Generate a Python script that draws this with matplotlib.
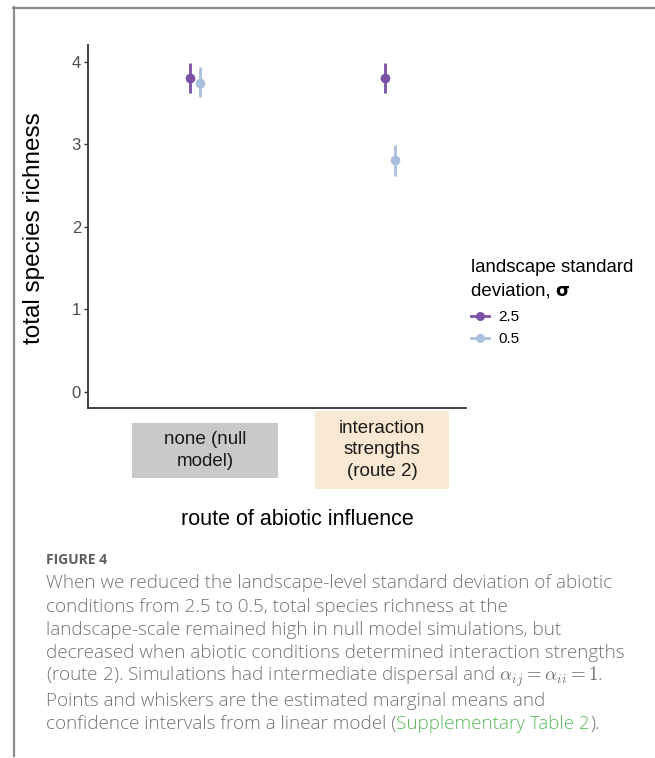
import numpy as np
import matplotlib
matplotlib.use("Agg")
import matplotlib.pyplot as plt
from matplotlib.lines import Line2D
from matplotlib.patches import Rectangle

# data
routes = ["none (null\nmodel)", "interaction\nstrengths\n(route 2)"]
sigma_labels = ["2.5", "0.5"]
sigma_colors = ["#7b52a6", "#a9c0de"]
# rows = sigma (2.5, 0.5), cols = route (null, route 2)
means = [[3.80, 3.80], [3.75, 2.81]]
ci_low = [[3.62, 3.63], [3.57, 2.62]]
ci_high = [[3.99, 3.99], [3.94, 2.99]]
yticks = [0, 1, 2, 3, 4]

caption_lines = [
    "When we reduced the landscape-level standard deviation of abiotic",
    "conditions from 2.5 to 0.5, total species richness at the",
    "landscape-scale remained high in null model simulations, but",
    "decreased when abiotic conditions determined interaction strengths",
    r"(route 2). Simulations had intermediate dispersal and $\alpha_{ij} = \alpha_{ii} = 1$.",
    "Points and whiskers are the estimated marginal means and",
]
caption_last = ["confidence intervals from a linear model (", "Supplementary Table 2", ")."]

W, H = 655, 758


def fx(x):
    return x / W


def fy(y):
    return 1 - y / H


plt.rcParams['font.family'] = ['Liberation Sans', 'DejaVu Sans']
plt.rcParams['mathtext.fontset'] = 'cm'

fig = plt.figure(figsize=(W / 100, H / 100), dpi=100)
ax = fig.add_axes([fx(88), fy(408), (466 - 88) / W, (408 - 45) / H])

xpos = np.arange(len(routes)) + 1
dodge = [-0.026, 0.026]
for i in range(len(sigma_labels)):
    m = np.array(means[i])
    lo = np.array(ci_low[i])
    hi = np.array(ci_high[i])
    ax.errorbar(xpos + dodge[i], m, yerr=[m - lo, hi - m], fmt='o',
                color=sigma_colors[i], ms=6, elinewidth=2, capsize=0)

ax.set_xlim(0.451, 2.39)
ax.set_ylim(-0.194, 4.206)
ax.set_yticks(yticks)
ax.set_yticklabels([str(t) for t in yticks])
ax.set_xticks([])
for s in ["top", "right"]:
    ax.spines[s].set_visible(False)
for s in ["left", "bottom"]:
    ax.spines[s].set_color("#333333")
    ax.spines[s].set_linewidth(1.3)
ax.tick_params(axis='y', length=3, width=1, color="#333333",
               labelcolor="#4d4d4d", labelsize=12, pad=2)

ax.set_ylabel("total species richness", fontsize=17.5, color="black")
ax.yaxis.set_label_coords(-0.114, 0.496)

# category labels in coloured boxes
box_specs = [((0.116, -0.193), 0.387, 0.152, "#c9c9c9"),
             ((0.601, -0.223), 0.354, 0.215, "#fae9d2")]
for (xy, w, h, col), lab in zip(box_specs, routes):
    ax.add_patch(Rectangle(xy, w, h, transform=ax.transAxes, facecolor=col,
                           edgecolor="none", clip_on=False))
    ax.text(xy[0] + w / 2, xy[1] + h / 2, lab, transform=ax.transAxes,
            ha='center', va='center', fontsize=13.5, linespacing=1.35,
            color="#1a1a1a")

ax.text(0.553, -0.306, "route of abiotic influence", transform=ax.transAxes,
        ha='center', va='center', fontsize=15.5, color="black")

# legend
fig.text(fx(471), fy(268), "landscape standard", fontsize=13.4, va='center')
t = fig.text(fx(471), fy(291), "deviation, ", fontsize=13.4, va='center')
ax.annotate("σ", xy=(1, 0.5), xycoords=t, va='center', ha='left',
            fontsize=13, fontweight='bold', family=['DejaVu Sans'])
handles = [Line2D([], [], color=c, marker='o', ms=5.5, lw=2) for c in sigma_colors]
ax.legend(handles, sigma_labels, loc='upper left',
          bbox_to_anchor=(fx(471), fy(310)), bbox_transform=fig.transFigure,
          frameon=False, handlelength=1.2, handletextpad=0.6,
          labelspacing=0.55, fontsize=11, borderaxespad=0, borderpad=0)

# page frame
fig.add_artist(Line2D([fx(13), fx(655)], [fy(7.5), fy(7.5)], color="#8c8c8c",
                      lw=1.6, transform=fig.transFigure))
fig.add_artist(Line2D([fx(13.5), fx(13.5)], [fy(7), fy(756)], color="#8c8c8c",
                      lw=1.6, transform=fig.transFigure))

# caption
cap_font = ['Open Sans', 'DejaVu Sans']
cap_col = "#737373"
cap_size = 13.6
fig.text(fx(46), fy(560), "FIGURE 4", fontsize=10, fontweight='bold',
         color="#5e5e5e", va='center', family=cap_font)
y0 = 583
for k, line in enumerate(caption_lines):
    fig.text(fx(46), fy(y0 + k * 23.5), line, fontsize=cap_size, color=cap_col,
             va='center', family=cap_font, fontweight='light')
ylast = y0 + len(caption_lines) * 23.5
prev = fig.text(fx(46), fy(ylast), caption_last[0], fontsize=cap_size,
                color=cap_col, va='center', family=cap_font, fontweight='light')
for piece, col in zip(caption_last[1:], ["#5cb85c", cap_col]):
    prev = ax.annotate(piece, xy=(1, 0.5), xycoords=prev, va='center',
                       ha='left', fontsize=cap_size, color=col, family=cap_font,
                       fontweight='light')

fig.savefig("out.png", dpi=100)
